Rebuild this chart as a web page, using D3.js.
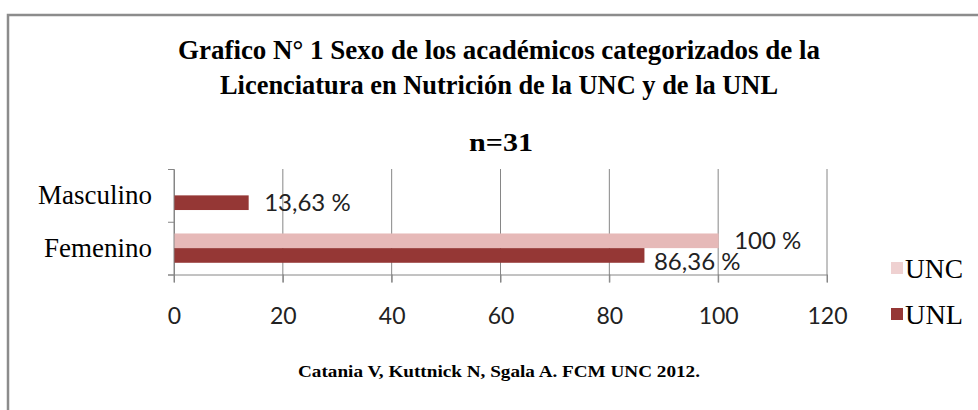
<!DOCTYPE html>
<html>
<head>
<meta charset="utf-8">
<script src="https://cdn.jsdelivr.net/npm/d3@7"></script>
<style>
  body { margin: 0; background: #fff; }
  svg { display: block; }
</style>
</head>
<body>
<figure id="bar" style="margin:0"></figure>
<script>
// chart data
const categories = ["Masculino", "Femenino"];
const seriesNames = ["UNC", "UNL"];
const unc = [null, 100];
const unl = [13.63, 86.36];
const xTicks = [0, 20, 40, 60, 80, 100, 120];
const colors = ["#E6B9B8", "#953735"];
const titleLines = [
  "Grafico N° 1  Sexo de los académicos categorizados de la",
  "Licenciatura en Nutrición de la UNC y de la UNL"
];
const subtitle = "n=31";
const source = "Catania V, Kuttnick N, Sgala A. FCM UNC 2012.";

const W = 978, H = 410;
const plot = { left: 174, right: 827, top: 169, bottom: 274.5 };

const svg = d3.select("figure#bar")
  .append("svg")
  .attr("width", W)
  .attr("height", H);

// frame (only top + left visible)
svg.append("path")
  .attr("d", `M8,${H} L8,15 L${W},15`)
  .attr("fill", "none")
  .attr("stroke", "#8c8c8c")
  .attr("stroke-width", 2.5);

// title (condensed bold serif)
const serif = "'Liberation Serif', 'Times New Roman', serif";
const title = svg.append("g").attr("font-family", serif).attr("font-weight", "bold")
  .attr("fill", "#000").attr("text-anchor", "middle");
title.append("text").attr("x", 499).attr("y", 59).attr("font-size", 27)
  .attr("textLength", 642).attr("lengthAdjust", "spacingAndGlyphs").text(titleLines[0]);
title.append("text").attr("x", 499).attr("y", 94).attr("font-size", 27)
  .attr("textLength", 558).attr("lengthAdjust", "spacingAndGlyphs").text(titleLines[1]);
title.append("text").attr("x", 501).attr("y", 151).attr("font-size", 26)
  .attr("textLength", 64).attr("lengthAdjust", "spacingAndGlyphs").text(subtitle);

// scales
const x = d3.scaleLinear()
  .domain([0, 120])
  .range([plot.left, plot.right]);

const y = d3.scaleBand()
  .domain(categories)
  .range([plot.top, plot.bottom])
  .padding(0);

const ySub = d3.scaleBand()
  .domain(seriesNames)
  .range([0, y.bandwidth()])
  .paddingInner(0)
  .paddingOuter(0.8);

// gridlines
svg.append("g")
  .selectAll("line")
  .data(xTicks)
  .enter()
  .append("line")
  .attr("x1", d => x(d)).attr("x2", d => x(d))
  .attr("y1", plot.top).attr("y2", plot.bottom + 8)
  .attr("stroke", "#868686")
  .attr("stroke-width", 1);

// x axis
const sans = "Lato, 'Open Sans', sans-serif";
const xAxis = svg.append("g")
  .attr("transform", `translate(0,${plot.bottom})`)
  .call(d3.axisBottom(x).tickValues(xTicks).tickSize(8).tickPadding(25));
xAxis.select(".domain").attr("stroke", "#868686").attr("d", `M${plot.left - 6},0.5H${plot.right}`);
xAxis.selectAll(".tick line").attr("stroke", "#868686");
xAxis.selectAll(".tick text")
  .attr("font-family", sans).attr("font-size", 23).attr("fill", "#222");

// y axis
const yAxis = svg.append("g")
  .attr("transform", `translate(${plot.left},0)`)
  .call(d3.axisLeft(y).tickSize(0).tickPadding(22));
yAxis.select(".domain").attr("stroke", "#868686");
yAxis.selectAll(".tick text")
  .attr("font-family", serif).attr("font-size", 27).attr("fill", "#000");
// category boundary ticks
svg.append("g")
  .selectAll("line")
  .data(categories.map(c => y(c)).concat([plot.bottom]))
  .enter()
  .append("line")
  .attr("x1", plot.left - 6).attr("x2", plot.left)
  .attr("y1", d => d + 0.5).attr("y2", d => d + 0.5)
  .attr("stroke", "#868686");

// bars
const rows = [];
categories.forEach((c, i) => {
  [unc, unl].forEach((vals, s) => {
    if (vals[i] != null) rows.push({ cat: c, series: seriesNames[s], value: vals[i], color: colors[s] });
  });
});

svg.selectAll("rect.bar")
  .data(rows)
  .enter()
  .append("rect")
  .attr("class", "bar")
  .attr("x", x(0) + 0.5)
  .attr("y", d => y(d.cat) + ySub(d.series))
  .attr("width", d => x(d.value) - x(0))
  .attr("height", ySub.bandwidth())
  .attr("fill", d => d.color);

// data labels, nudged down when they collide
const fmt = v => String(v).replace(".", ",") + " %";
const labels = rows.map(d => ({
  text: fmt(d.value),
  x: x(d.value) + 16,
  y: y(d.cat) + ySub(d.series) + ySub.bandwidth() / 2
}));
const lbl = svg.append("g").attr("font-family", sans).attr("font-size", 24).attr("fill", "#222");
const nodes = lbl.selectAll("text").data(labels).enter().append("text")
  .attr("x", d => d.x).attr("y", d => d.y).attr("dy", "0.35em").text(d => d.text);
nodes.each(function (d) { const b = this.getBBox(); d.w = b.width; d.h = b.height - 9; });
for (let i = 0; i < labels.length; i++) {
  for (let j = 0; j < i; j++) {
    const a = labels[j], b = labels[i];
    const ox = a.x < b.x + b.w && b.x < a.x + a.w;
    const oy = Math.abs(a.y - b.y) < a.h;
    if (ox && oy) { b.x -= 6; b.y = a.y + a.h + 1; }
  }
}
nodes.attr("x", d => d.x).attr("y", d => d.y);

// legend
const legend = svg.append("g").attr("font-family", serif).attr("font-size", 28);
seriesNames.forEach((s, i) => {
  const g = legend.append("g").attr("transform", `translate(891,${268 + i * 46})`);
  g.append("rect").attr("x", 0).attr("y", -6).attr("width", 12).attr("height", 12)
    .attr("fill", colors[i]).attr("fill-opacity", i === 0 ? 0.65 : 1);
  g.append("text").attr("x", 14).attr("y", 0).attr("dy", "0.35em")
    .attr("textLength", 58).attr("lengthAdjust", "spacingAndGlyphs").text(s);
});

// source
svg.append("text")
  .attr("x", 499).attr("y", 377)
  .attr("text-anchor", "middle")
  .attr("font-family", serif).attr("font-weight", "bold").attr("font-size", 17)
  .attr("textLength", 402).attr("lengthAdjust", "spacingAndGlyphs")
  .text(source);
</script>
</body>
</html>
